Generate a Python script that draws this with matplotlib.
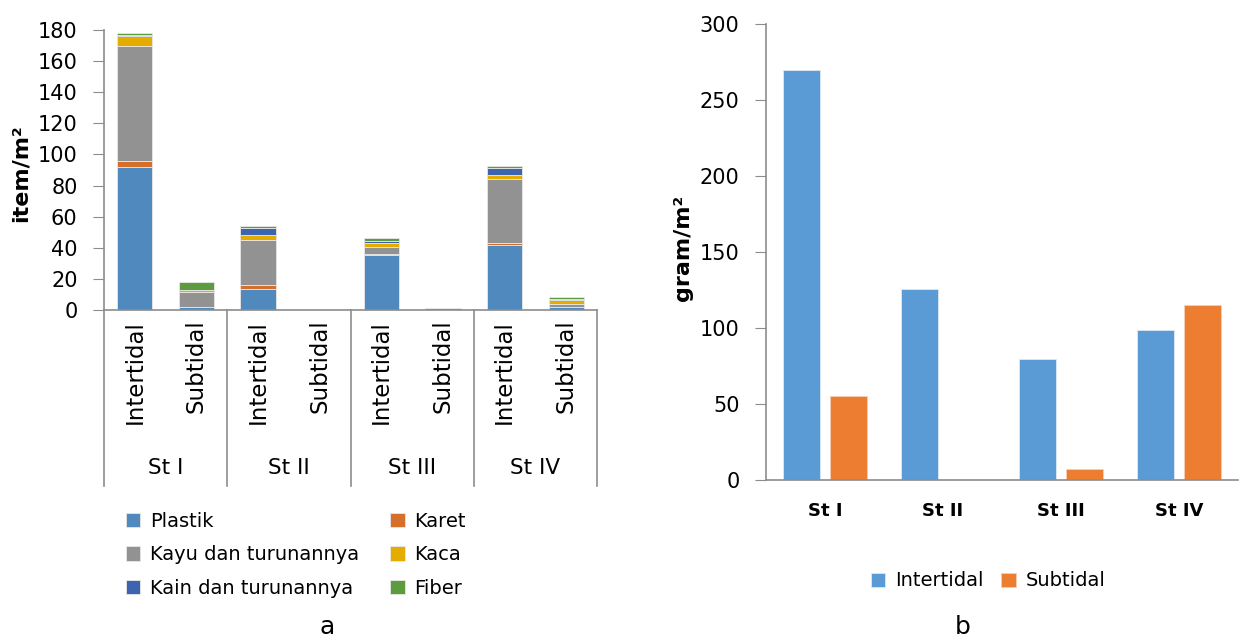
import numpy as np
import matplotlib.pyplot as plt

# data
stations = ['St I', 'St II', 'St III', 'St IV']
zones = ['Intertidal', 'Subtidal']

# item/m2 per category, order: St I int, St I sub, St II int, ... St IV sub
plastik = [92.0, 2.0, 13.7, 0.0, 35.1, 0.0, 41.8, 1.7]
karet = [4.0, 0.1, 2.2, 0.0, 1.1, 0.0, 1.3, 0.2]
kayu = [74.0, 9.7, 29.0, 0.0, 4.5, 1.0, 40.9, 1.7]
kaca = [6.0, 1.1, 3.0, 0.0, 2.6, 0.0, 3.0, 2.8]
kain = [1.0, 0.0, 5.0, 0.0, 0.9, 0.0, 4.0, 0.7]
fiber = [1.3, 4.9, 1.1, 0.0, 2.0, 0.0, 1.8, 1.0]

# gram/m2
berat_inter = [269.6, 125.6, 79.6, 98.4]
berat_sub = [55.2, 0.0, 7.5, 115.3]

series = [('Plastik', plastik, '#4F89BD'),
          ('Karet', karet, '#D4702B'),
          ('Kayu dan turunannya', kayu, '#929292'),
          ('Kaca', kaca, '#E5AC00'),
          ('Kain dan turunannya', kain, '#3D64AE'),
          ('Fiber', fiber, '#5E9B3F')]

plt.rcParams['font.family'] = ['DejaVu Sans']
axis_col = '#8C8C8C'

fig = plt.figure(figsize=(12.4, 6.37), dpi=100)
W, H = 1240.0, 637.0

# ---------- panel a: stacked bars ----------
ax = fig.add_axes([104/W, 1-310/H, (597-104)/W, 280/H])
x = np.arange(len(plastik))
bottom = np.zeros(len(x))
handles = {}
for name, vals, col in series:
    vals = np.array(vals)
    b = ax.bar(x, vals, 0.57, bottom=bottom, color=col, edgecolor='#E8E8E8', linewidth=0.6, label=name)
    handles[name] = b
    bottom += vals

ax.set_xlim(-0.5, 7.5)
ax.set_ylim(0, 180)
ax.set_yticks(np.arange(0, 181, 20))
ax.tick_params(axis='y', labelsize=15, length=8, color=axis_col, direction='out', pad=11)
ax.set_xticks([])
for s in ['top', 'right']:
    ax.spines[s].set_visible(False)
for s in ['left', 'bottom']:
    ax.spines[s].set_color(axis_col)
    ax.spines[s].set_linewidth(1.2)

# two-level category axis drawn by hand
tr = ax.get_xaxis_transform()
for i, xi in enumerate(x):
    ax.text(xi, -0.035, zones[i % 2], rotation=90, ha='center', va='top',
            fontsize=16.5, transform=tr)
for j, st in enumerate(stations):
    ax.text(2*j + 0.5, -0.565, st, ha='center', va='center', fontsize=15.5, transform=tr)
for d in [-0.5, 1.5, 3.5, 5.5, 7.5]:
    ax.plot([d, d], [0, -0.63], color=axis_col, lw=1.2, transform=tr, clip_on=False)

fig.text(21/W, 1-173/H, 'item/m²', rotation=90, ha='center', va='center',
         fontsize=16, fontweight='bold')

order = ['Plastik', 'Kayu dan turunannya', 'Kain dan turunannya', 'Karet', 'Kaca', 'Fiber']
fig.legend([handles[n] for n in order], order, ncol=2, loc='upper left',
           bbox_to_anchor=(118/W, 1-504/H), frameon=False, fontsize=14,
           handlelength=0.75, handleheight=0.75, handletextpad=0.5,
           columnspacing=1.6, labelspacing=0.75, borderaxespad=0)

fig.text(327/W, 1-634/H, 'a', ha='center', va='baseline', fontsize=18)

# ---------- panel b: grouped bars ----------
bx = fig.add_axes([766/W, 1-480/H, (1238-766)/W, 456/H])
xs = np.arange(len(stations))
bx.bar(xs - 0.2, berat_inter, 0.32, color='#5B9BD5', edgecolor='#DCE9F5', linewidth=0.6, label=zones[0])
bx.bar(xs + 0.2, berat_sub, 0.32, color='#ED7D31', edgecolor='#F6D0B4', linewidth=0.6, label=zones[1])
bx.set_xlim(-0.5, 3.5)
bx.set_ylim(0, 300)
bx.set_yticks(np.arange(0, 301, 50))
bx.set_xticks(xs)
bx.set_xticklabels(stations, fontsize=13, fontweight='bold')
bx.tick_params(axis='x', length=0, pad=16)
bx.tick_params(axis='y', labelsize=15, length=8, color=axis_col, pad=11)
for s in ['top', 'right']:
    bx.spines[s].set_visible(False)
for s in ['left', 'bottom']:
    bx.spines[s].set_color(axis_col)
    bx.spines[s].set_linewidth(1.2)

fig.text(683/W, 1-248/H, 'gram/m²', rotation=90, ha='center', va='center',
         fontsize=16, fontweight='bold')
fig.legend(*bx.get_legend_handles_labels(), ncol=2, loc='center',
           bbox_to_anchor=(988/W, 1-581/H), frameon=False, fontsize=14,
           handlelength=0.75, handleheight=0.75, handletextpad=0.5, columnspacing=0.9)

fig.text(963/W, 1-634/H, 'b', ha='center', va='baseline', fontsize=18)

fig.savefig('out.png', dpi=100)
